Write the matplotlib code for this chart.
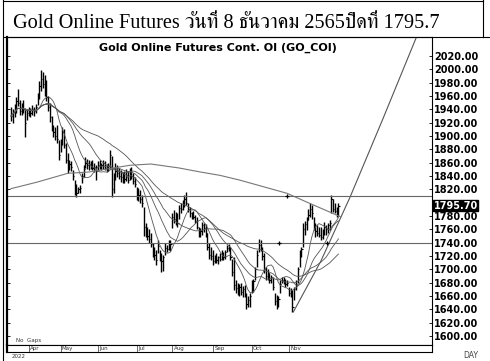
import numpy as np
import pandas as pd
import matplotlib
matplotlib.use('Agg')
import matplotlib.pyplot as plt
from matplotlib.lines import Line2D

# ---- data ----
highs = [1944, 1940, 1948, 1958, 1971, 1954, 1950, 1954, 1942, 1940,
         1944, 1942, 1946, 1943, 1948, 1964, 1982, 1999, 1996, 1992,
         1984, 1960, 1949, 1930, 1916, 1914, 1916, 1894, 1896, 1914,
         1910, 1889, 1874, 1864, 1862, 1849, 1834, 1828, 1824, 1826,
         1844, 1856, 1869, 1866, 1864, 1862, 1864, 1860, 1856, 1862,
         1864, 1860, 1864, 1862, 1858, 1860, 1879, 1870, 1845, 1859,
         1856, 1852, 1849, 1846, 1848, 1850, 1848, 1852, 1854, 1845,
         1839, 1824, 1822, 1819, 1812, 1794, 1770, 1764, 1760, 1754,
         1739, 1734, 1729, 1744, 1729, 1724, 1722, 1739, 1737, 1744,
         1744, 1784, 1789, 1786, 1784, 1796, 1799, 1804, 1812, 1816,
         1799, 1794, 1786, 1788, 1781, 1779, 1764, 1762, 1771, 1769,
         1768, 1754, 1739, 1734, 1729, 1722, 1724, 1720, 1724, 1729,
         1726, 1729, 1736, 1738, 1734, 1716, 1719, 1684, 1679, 1678,
         1679, 1675, 1676, 1664, 1660, 1664, 1684, 1686, 1704, 1729,
         1746, 1744, 1734, 1724, 1704, 1700, 1694, 1692, 1689, 1664,
         1662, 1660, 1684, 1689, 1688, 1686, 1684, 1674, 1672, 1669,
         1674, 1684, 1704, 1729, 1734, 1769, 1772, 1779, 1790, 1799,
         1796, 1779, 1769, 1766, 1764, 1764, 1760, 1771, 1766, 1770,
         1774, 1811, 1806, 1800, 1794, 1800]
lows = [1922, 1919, 1928, 1934, 1945, 1932, 1931, 1934, 1899, 1924,
        1930, 1929, 1932, 1930, 1934, 1946, 1956, 1968, 1972, 1960,
        1952, 1938, 1921, 1908, 1899, 1894, 1889, 1864, 1876, 1886,
        1882, 1859, 1844, 1849, 1848, 1834, 1812, 1809, 1814, 1814,
        1829, 1838, 1852, 1850, 1849, 1850, 1849, 1846, 1834, 1848,
        1850, 1849, 1851, 1849, 1846, 1848, 1850, 1809, 1815, 1834,
        1839, 1836, 1831, 1829, 1830, 1833, 1830, 1834, 1836, 1828,
        1824, 1804, 1802, 1799, 1794, 1750, 1749, 1744, 1740, 1734,
        1719, 1714, 1706, 1724, 1712, 1696, 1698, 1722, 1726, 1729,
        1728, 1762, 1769, 1766, 1764, 1776, 1784, 1789, 1794, 1796,
        1786, 1779, 1776, 1775, 1769, 1761, 1749, 1748, 1751, 1756,
        1748, 1729, 1716, 1714, 1706, 1709, 1710, 1708, 1712, 1714,
        1714, 1716, 1726, 1728, 1714, 1690, 1669, 1664, 1662, 1660,
        1662, 1659, 1658, 1641, 1644, 1643, 1664, 1666, 1684, 1704,
        1726, 1728, 1714, 1694, 1684, 1684, 1679, 1680, 1669, 1646,
        1641, 1644, 1664, 1679, 1678, 1674, 1675, 1660, 1659, 1636,
        1654, 1669, 1679, 1704, 1719, 1734, 1752, 1759, 1774, 1778,
        1776, 1759, 1749, 1750, 1748, 1744, 1745, 1751, 1752, 1754,
        1759, 1784, 1786, 1784, 1779, 1780]
closes = [1930, 1936, 1940, 1952, 1950, 1938, 1946, 1940, 1920, 1934,
          1938, 1935, 1940, 1937, 1944, 1960, 1975, 1985, 1978, 1966,
          1958, 1944, 1928, 1912, 1906, 1900, 1895, 1872, 1888, 1906,
          1886, 1864, 1852, 1858, 1853, 1840, 1820, 1815, 1820, 1822,
          1840, 1850, 1860, 1856, 1858, 1855, 1852, 1854, 1848, 1856,
          1853, 1857, 1860, 1852, 1850, 1855, 1872, 1820, 1838, 1848,
          1845, 1840, 1838, 1836, 1835, 1842, 1834, 1846, 1840, 1832,
          1828, 1808, 1812, 1806, 1800, 1764, 1756, 1750, 1746, 1738,
          1726, 1722, 1714, 1735, 1716, 1712, 1718, 1732, 1730, 1740,
          1738, 1778, 1776, 1780, 1770, 1792, 1790, 1798, 1806, 1800,
          1790, 1784, 1782, 1778, 1772, 1764, 1752, 1758, 1766, 1762,
          1754, 1734, 1722, 1720, 1712, 1716, 1714, 1718, 1716, 1722,
          1718, 1726, 1732, 1734, 1718, 1696, 1676, 1672, 1670, 1674,
          1666, 1670, 1662, 1648, 1654, 1660, 1678, 1682, 1700, 1722,
          1736, 1732, 1720, 1700, 1690, 1694, 1684, 1688, 1674, 1652,
          1648, 1656, 1678, 1684, 1682, 1678, 1680, 1664, 1668, 1644,
          1670, 1678, 1700, 1724, 1730, 1760, 1768, 1774, 1782, 1790,
          1784, 1764, 1758, 1754, 1752, 1748, 1754, 1764, 1760, 1766,
          1770, 1806, 1790, 1788, 1786, 1795.7]

# 200 day average, read as a few points
ma200_i = [0, 15, 32, 44, 67, 79, 95, 107, 118, 129, 156, 167, 180, 186]
ma200_p = [1821, 1831, 1844, 1846, 1856, 1858, 1852, 1846, 1841, 1834, 1814, 1801, 1786, 1779]

# trend line from the November low
trend_i = [159.5, 175, 191.5, 210, 229]
trend_p = [1636, 1712, 1808, 1925, 2048]

# support / resistance lines and marks
levels = [1810, 1740]
mark_i = [156, 151.4, 178.5]
mark_p = [1810, 1740, 1740]

months = ['Apr', 'May', 'Jun', 'Jul', 'Aug', 'Sep', 'Oct', 'Nov']
month_i = [10, 28, 49, 71, 91, 114, 136, 157]
# 1800 is covered by the last price box in the picture
yticks = [1600, 1620, 1640, 1660, 1680, 1700, 1720, 1740, 1760, 1780,
          1820, 1840, 1860, 1880, 1900, 1920, 1940, 1960, 1980, 2000, 2020]
last_price = 1795.7

headline = 'Gold Online Futures วันที่ 8 ธันวาคม 2565ปิดที่ 1795.7'

W, H = 490, 361
def fx(px):
    return px / W
def fy(py):
    return 1 - py / H

fig = plt.figure(figsize=(W / 100, H / 100), dpi=100)

# main price panel
ax = fig.add_axes([fx(7), fy(344.7), fx(432) - fx(7), fy(37) - fy(344.7)])
x = np.arange(len(closes))
ax.vlines(x, lows, highs, color='black', lw=1.0)
ax.hlines(closes, x, x + 0.7, color='black', lw=0.8)

s = pd.Series(closes)
for w in [10, 20, 30, 50]:
    ax.plot(x, s.rolling(w, min_periods=1).mean(), color='#555555', lw=0.6)
ax.plot(ma200_i, ma200_p, color='#777777', lw=0.8)
ax.plot(trend_i, trend_p, color='#555555', lw=0.8)
for lv in levels:
    ax.axhline(lv, color='#666666', lw=0.8)
ax.plot(mark_i, mark_p, '+', color='black', ms=3, mew=0.9)

ax.set_xlim(-2.26, 237.85)
ax.set_ylim(1586.95, 2048.5)
ax.set_xticks([])
ax.set_yticks(yticks)
ax.set_yticklabels(['%.2f' % v for v in yticks])
ax.yaxis.tick_right()
ax.tick_params(axis='y', left=True, right=True, direction='in', length=2,
               width=0.6, pad=1.5, labelsize=7)
for lab in ax.get_yticklabels():
    lab.set_fontweight('bold')
for sp in ax.spines.values():
    sp.set_linewidth(0.8)
ax.spines['left'].set_linewidth(1.6)

# last price box
ax.annotate('%.2f' % last_price, xy=(1.004, last_price),
            xycoords=('axes fraction', 'data'), va='center', ha='left',
            fontsize=7, fontweight='bold', color='white',
            bbox=dict(boxstyle='square,pad=0.05', fc='black', ec='black'))

ax.text(0.497, 0.98, 'Gold Online Futures Cont. OI (GO_COI)',
        transform=ax.transAxes, ha='center', va='top', fontsize=8,
        fontweight='bold')
ax.text(0.02, 0.008, 'No  Gaps', transform=ax.transAxes, fontsize=4,
        color='#333333')

# date band
bx = fig.add_axes([fx(7), fy(352), fx(432) - fx(7), fy(344.7) - fy(352)])
bx.set_xlim(ax.get_xlim())
bx.set_ylim(0, 1)
bx.set_xticks([])
bx.set_yticks([])
for sp in bx.spines.values():
    sp.set_linewidth(0.8)
bx.spines['left'].set_linewidth(1.6)
for m, mi in zip(months, month_i):
    bx.axvline(mi, color='#555555', lw=0.6)
    bx.text(mi + 0.8, 0.5, m, fontsize=4, va='center', ha='left',
            color='#333333')

fig.text(fx(12), fy(357), '2022', fontsize=4, va='center', color='#333333')
fig.text(fx(463), fy(356), 'DAY', fontsize=5.5, va='center', color='#444444')

# frame lines of the picture
for (x0, y0, x1, y1) in [(3, 0.5, 483, 0.5), (3, 37, 490, 37),
                         (3, 0, 3, 361), (483, 0, 483, 37)]:
    fig.add_artist(Line2D([fx(x0), fx(x1)], [fy(y0), fy(y1)], color='black',
                          lw=0.8, transform=fig.transFigure))

# headline: latin in Times-like serif, thai from FreeSerif
fig.text(fx(13), fy(28.5), headline, fontsize=14.6,
         family=['Liberation Serif', 'FreeSerif'], va='baseline', ha='left')

fig.savefig('out.png', dpi=100)
